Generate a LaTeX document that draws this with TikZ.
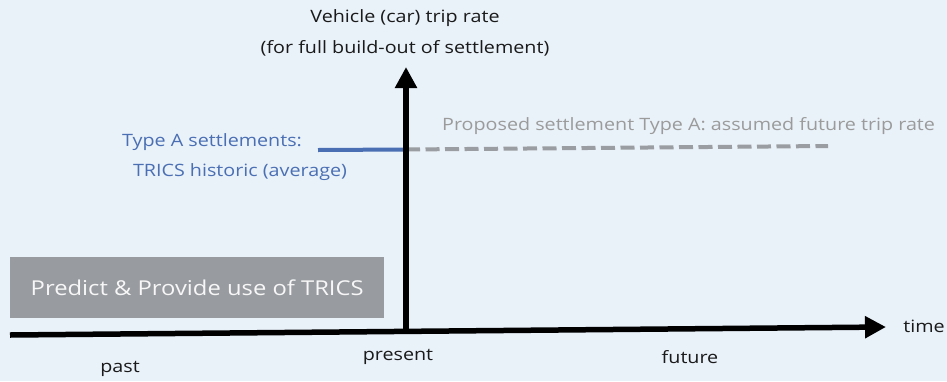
\documentclass[tikz,border=0pt]{standalone}
\usepackage{fontspec}
\setmainfont[FakeStretch=1.16]{Open Sans}
\usetikzlibrary{arrows.meta}
\definecolor{bgc}{HTML}{E9F1F9}
\definecolor{bluec}{HTML}{4A6FB3}
\definecolor{grayline}{HTML}{9A9DA1}
\definecolor{boxc}{HTML}{989BA0}
\definecolor{graytext}{HTML}{9B9B9B}
\definecolor{inkc}{HTML}{1A1A1A}
\tikzset{
  lbl/.style={inner sep=0pt, font=\fontsize{17}{20}\selectfont, text=inkc},
  axis/.style={line width=5.5pt, draw=black, -{Triangle[length=21pt,width=21pt]}},
}
\begin{document}
\begin{tikzpicture}[x=1pt,y=-1pt]
\fill[bgc] (0,0) rectangle (947,381);
\useasboundingbox (0,0) rectangle (947,381);
% box
\node[fill=boxc, minimum width=374pt, minimum height=61pt, inner sep=0pt, anchor=north west,
  text=white!94!gray, font=\fontsize{20.5}{24}\selectfont] (box) at (10,257) {Predict \& Provide use of TRICS};
% coordinates
\coordinate (hstart) at (10,335);
\coordinate (hend) at (886,327);
\coordinate (vbase) at (406,333);
\coordinate (vtop) at (406,67);
\coordinate (bstart) at (318,150);
\coordinate (bend) at (406,149.5);
\coordinate (dend) at (828,146);
% lines
\draw[line width=4pt, bluec] (bstart) -- (bend);
\draw[line width=4pt, grayline, dash pattern=on 14pt off 5.5pt] (bend) -- (dend);
\draw[axis] (hstart) -- (hend);
\draw[axis] (vbase) -- (vtop);
% labels
\node[lbl] (t1) at (405,18) {Vehicle (car) trip rate};
\node[lbl] (t2) at (405,48) {(for full build-out of settlement)};
\node[lbl, text=bluec] (ta) at (212,142) {Type A settlements:};
\node[lbl, text=bluec] (tb) at (240,172) {TRICS historic (average)};
\node[lbl, text=graytext, anchor=west] (prop) at (442,126) {Proposed settlement Type A: assumed future trip rate};
\node[lbl, anchor=east] (time) at (945,326) {time};
\node[lbl] (past) at (120,369) {past};
\node[lbl] (pres) at (398,357) {present};
\node[lbl] (fut) at (690,357) {future};
\end{tikzpicture}
\end{document}
